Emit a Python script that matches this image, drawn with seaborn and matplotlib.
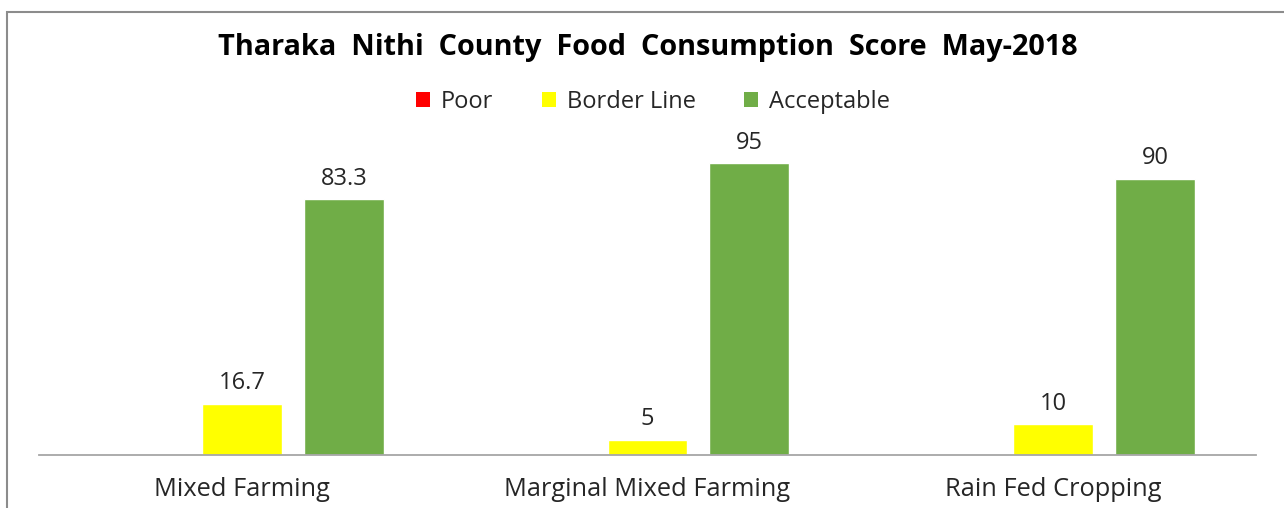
import matplotlib
matplotlib.use("Agg")
import matplotlib.pyplot as plt
import seaborn as sns
import pandas as pd
from matplotlib.patches import Rectangle, Patch

categories = ["Mixed Farming", "Marginal Mixed Farming", "Rain Fed Cropping"]
series = ["Poor", "Border Line", "Acceptable"]
poor = [0, 0, 0]
border_line = [16.7, 5, 10]
acceptable = [83.3, 95, 90]
colors = ["#FF0000", "#FFFF00", "#70AD47"]

rows = []
for i, c in enumerate(categories):
    rows.append((c, "Poor", poor[i]))
    rows.append((c, "Border Line", border_line[i]))
    rows.append((c, "Acceptable", acceptable[i]))
df = pd.DataFrame(rows, columns=["category", "series", "value"])

sns.set_theme(style="white")
plt.rcParams["font.family"] = ["Open Sans", "DejaVu Sans"]

fig = plt.figure(figsize=(12.84, 5.08), dpi=100)
ax = fig.add_axes([39 / 1284, 53 / 508, 1217 / 1284, 307 / 508])

sns.barplot(data=df, x="category", y="value", hue="series", order=categories,
            hue_order=series, palette=colors, width=0.754, gap=0.216,
            saturation=1, ax=ax, legend=False, errorbar=None)

ax.set_ylim(0, 100)
ax.set_xlim(-0.5, 2.5)
ax.set_yticks([])
ax.set_xlabel("")
ax.set_ylabel("")
for s in ["top", "left", "right"]:
    ax.spines[s].set_visible(False)
ax.spines["bottom"].set_color("#A6A6A6")
ax.spines["bottom"].set_linewidth(1.3)
ax.tick_params(axis="x", length=0, pad=16, labelsize=18.3, labelcolor="#262626")

for container in ax.containers:
    labels = [("%g" % v) if v > 0 else "" for v in container.datavalues]
    ax.bar_label(container, labels=labels, padding=6, fontsize=17, color="#262626")

handles = [Patch(facecolor=c, edgecolor="none") for c in colors]
fig.legend(handles, series, loc="center", bbox_to_anchor=(653 / 1284, 1 - 102 / 508),
           ncol=3, frameon=False, fontsize=17, handlelength=0.6, handleheight=0.6,
           handletextpad=0.45, columnspacing=2.05, labelcolor="#262626")

fig.text(648 / 1284, 1 - 48 / 508, "Tharaka  Nithi  County  Food  Consumption  Score  May-2018",
         ha="center", va="center", fontsize=20.8, fontweight="bold", color="black")

fig.patches.append(Rectangle((7 / 1284, -0.1), 1.2, 1 - 12 / 508 + 0.1,
                             transform=fig.transFigure, fill=False,
                             edgecolor="#8C8C8C", linewidth=1.5))

fig.savefig("out.png", dpi=100)
